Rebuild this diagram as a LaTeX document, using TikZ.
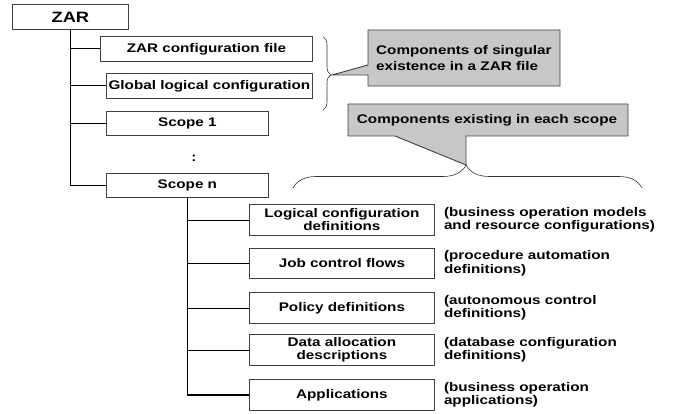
\documentclass[tikz,border=0pt]{standalone}
\usepackage{fontspec}
\setmainfont[FakeStretch=1.22]{Liberation Sans}
\usetikzlibrary{decorations.pathreplacing}
\definecolor{linegray}{gray}{0.25}
\definecolor{calloutfill}{gray}{0.78}
\tikzset{
  box/.style={draw=linegray, line width=0.8pt, fill=white, anchor=north west, inner sep=0pt,
    align=center, font=\bfseries\fontsize{12.5}{13.2}\selectfont},
  conn/.style={draw=black, line width=0.8pt},
  trunk/.style={draw=black, line width=1.3pt},
  desc/.style={anchor=west, align=left, inner sep=0pt, font=\bfseries\fontsize{12.5}{13.4}\selectfont},
  callout/.style={draw=linegray, line width=0.9pt, fill=calloutfill},
  bracestyle/.style={draw=black!80, line width=0.6pt, decorate},
}
\begin{document}
\begin{tikzpicture}[x=1pt,y=-1pt]
\useasboundingbox (0,0) rectangle (676,414);
% top level
\node[box, minimum width=116pt, minimum height=25pt, font=\bfseries\fontsize{15}{16}\selectfont] (zar) at (12,4) {ZAR};
\node[box, minimum width=212pt, minimum height=25pt] (cfg) at (100,36) {ZAR configuration file};
\node[box, minimum width=206pt, minimum height=25pt] (glob) at (106,73) {Global logical configuration};
\node[box, minimum width=162pt, minimum height=24pt] (s1) at (106,111) {Scope 1};
\node[inner sep=0pt, font=\bfseries\fontsize{12.5}{13}\selectfont] (dots) at (194,158) {:};
\node[box, minimum width=162pt, minimum height=24pt] (sn) at (106,173) {Scope n};
% scope children
\node[box, minimum width=185pt, minimum height=31pt] (lcd) at (249,204) {Logical configuration\\definitions};
\node[box, minimum width=185pt, minimum height=30pt] (jcf) at (249,248) {Job control flows};
\node[box, minimum width=185pt, minimum height=31pt] (pol) at (249,292) {Policy definitions};
\node[box, minimum width=185pt, minimum height=31pt] (dad) at (249,334) {Data allocation\\descriptions};
\node[box, minimum width=185pt, minimum height=31pt] (app) at (249,379) {Applications};
% descriptions
\node[desc] (d1) at ([xshift=9pt]lcd.east) {(business operation models\\and resource configurations)};
\node[desc] (d2) at ([xshift=9pt]jcf.east) {(procedure automation\\definitions)};
\node[desc] (d3) at ([xshift=9pt]pol.east) {(autonomous control\\definitions)};
\node[desc] (d4) at ([xshift=9pt]dad.east) {(database configuration\\definitions)};
\node[desc] (d5) at ([xshift=9pt]app.east) {(business operation\\applications)};
% connectors
\draw[trunk] (zar.south) |- (sn.west);
\draw[conn] (zar.south |- cfg.west) -- (cfg.west);
\draw[conn] (zar.south |- glob.west) -- (glob.west);
\draw[conn] (zar.south |- s1.west) -- (s1.west);
\draw[trunk] (sn.south) |- (app.west);
\draw[conn] (sn.south |- lcd.west) -- (lcd.west);
\draw[conn] (sn.south |- jcf.west) -- (jcf.west);
\draw[conn] (sn.south |- pol.west) -- (pol.west);
\draw[conn] (sn.south |- dad.west) -- (dad.west);
% braces
\coordinate (b1a) at (323,36.7);
\coordinate (b1b) at (323,110);
\draw[bracestyle, decoration={brace, amplitude=8pt, aspect=0.52}] (b1a) -- (b1b);
\coordinate (b2a) at (293,188);
\coordinate (b2b) at (642,188);
\draw[bracestyle, decoration={brace, amplitude=23pt, aspect=0.496}] (b2a) -- (b2b);
% callouts
\draw[callout] (368,30) -- (560,30) -- (560,86) -- (368,86) -- (368,75) -- (332,75) -- (368,65) -- cycle;
\node[desc, font=\bfseries\fontsize{12.5}{16}\selectfont] (c1) at (376,58) {Components of singular\\existence in a ZAR file};
\draw[callout] (348,104) -- (628,104) -- (628,136) -- (466,136) -- (466,165) -- (395,136) -- (348,136) -- cycle;
\node[inner sep=0pt, font=\bfseries\fontsize{12.5}{13}\selectfont] (c2) at (487,120) {Components existing in each scope};
\end{tikzpicture}
\end{document}
